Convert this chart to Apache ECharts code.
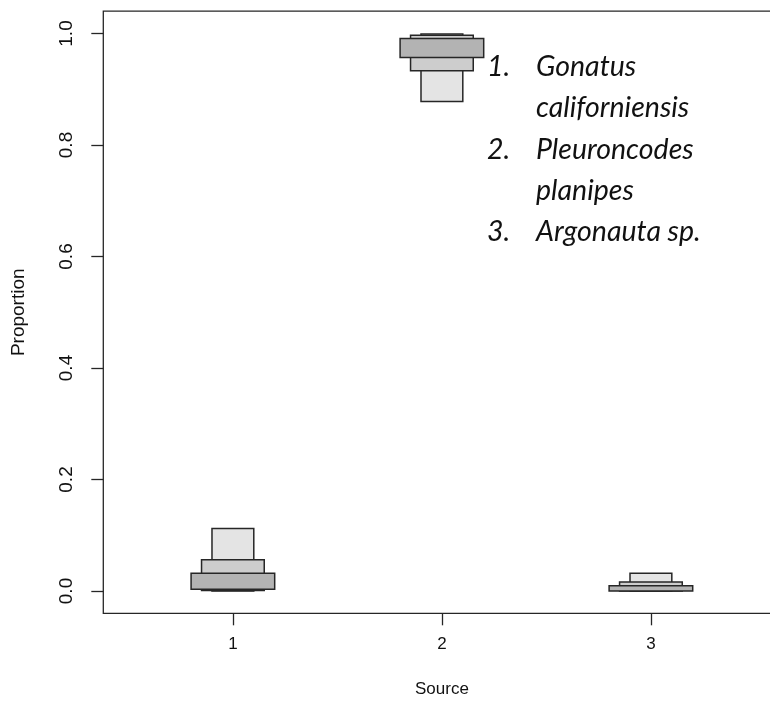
<!DOCTYPE html>
<html>
<head>
<meta charset="utf-8">
<title>Proportion by source</title>
<script src="https://cdn.jsdelivr.net/npm/echarts@6/dist/echarts.min.js"></script>
<style>
  html, body { margin: 0; padding: 0; background: #fff; }
  #chart { width: 770px; height: 706px; }
</style>
</head>
<body>
<div id="chart"></div>
<script>
// Sources on the x axis
const sources = [1, 2, 3];
// Credible intervals of the dietary proportion for each source
const ci95Low  = [0.0002, 0.878, 0.000];
const ci95High = [0.112,  0.999, 0.032];
const ci75Low  = [0.0008, 0.933, 0.000];
const ci75High = [0.056,  0.997, 0.016];
const ci50Low  = [0.003,  0.957, 0.000];
const ci50High = [0.032,  0.991, 0.0095];
// Axis tick values
const xTicks = [1, 2, 3];
const yTicks = [0, 0.2, 0.4, 0.6, 0.8, 1.0];
// Species names for the numbered key
const sourceNames = [
  ['Gonatus', 'californiensis'],
  ['Pleuroncodes', 'planipes'],
  ['Argonauta sp.']
];

const rows = (lo, hi) => sources.map((s, i) => [s, lo[i], hi[i]]);

function boxRenderer(halfWidth, fill) {
  return function (params, api) {
    const x = api.value(0);
    const lo = api.value(1);
    const hi = api.value(2);
    const a = api.coord([x - halfWidth, hi]);
    const b = api.coord([x + halfWidth, lo]);
    return {
      type: 'rect',
      shape: { x: a[0], y: a[1], width: b[0] - a[0], height: b[1] - a[1] },
      style: { fill: fill, stroke: '#262626', lineWidth: 1.5 }
    };
  };
}

function boxSeries(lo, hi, halfWidth, fill) {
  return {
    type: 'custom',
    renderItem: boxRenderer(halfWidth, fill),
    encode: { x: 0, y: [1, 2] },
    data: rows(lo, hi),
    silent: true,
    animation: false
  };
}

// Numbered key, drawn as text lines
const keyFont = 'italic 28.5px Lato, "Open Sans", sans-serif';
const keyLineGap = 41.2;
const keyTop = 67;
const keyText = [];
let line = 0;
sourceNames.forEach((name, i) => {
  keyText.push({
    type: 'text', x: 487, y: keyTop + line * keyLineGap,
    style: { text: (i + 1) + '.', font: keyFont, fill: '#111', verticalAlign: 'middle' }
  });
  name.forEach(part => {
    keyText.push({
      type: 'text', x: 536, y: keyTop + line * keyLineGap,
      style: { text: part, font: keyFont, fill: '#111', verticalAlign: 'middle' }
    });
    line++;
  });
});

const family = '"Liberation Sans", Arial, sans-serif';
const xFont = { fontFamily: family, fontSize: 17, color: '#111' };
const yFont = { fontFamily: family, fontSize: 19, color: '#111' };

const chart = echarts.init(document.getElementById('chart'), null, { renderer: 'canvas' });
chart.setOption({
  animation: false,
  backgroundColor: '#fff',
  grid: {
    left: 103.3, top: 11.2, width: 677.2, height: 602.1,
    outerBoundsMode: 'none', containLabel: false,
    show: true, borderColor: '#262626', borderWidth: 1.3, backgroundColor: 'transparent'
  },
  xAxis: {
    type: 'value', min: 0.38, max: 3.62,
    axisLine: { show: false, onZero: false },
    splitLine: { show: false },
    axisTick: { show: true, customValues: xTicks, length: 12, lineStyle: { color: '#262626', width: 1.3 } },
    axisLabel: Object.assign({ customValues: xTicks, margin: 23 }, xFont),
    name: 'Source', nameLocation: 'middle', nameGap: 68,
    nameTextStyle: xFont
  },
  yAxis: {
    type: 'value', min: -0.04, max: 1.04,
    axisLine: { show: false, onZero: false },
    splitLine: { show: false },
    axisTick: { show: true, customValues: yTicks, length: 12, lineStyle: { color: '#262626', width: 1.3 } },
    axisLabel: Object.assign({ customValues: yTicks, rotate: 90, margin: 27, formatter: v => v.toFixed(1) }, yFont),
    name: 'Proportion', nameLocation: 'middle', nameGap: 75, nameRotate: 90,
    nameTextStyle: yFont
  },
  series: [
    boxSeries(ci95Low, ci95High, 0.10, '#e4e4e4'),
    boxSeries(ci75Low, ci75High, 0.15, '#cdcdcd'),
    boxSeries(ci50Low, ci50High, 0.20, '#b3b3b3')
  ],
  graphic: keyText
});
</script>
</body>
</html>
